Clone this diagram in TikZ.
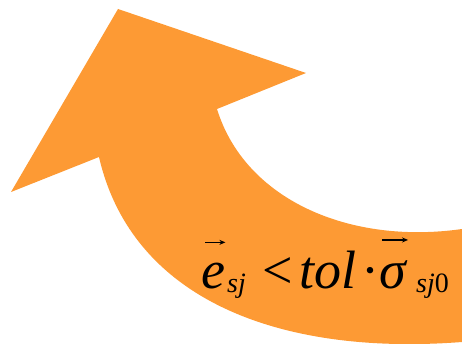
\documentclass[tikz,border=0pt]{standalone}
\usepackage{fontspec}
\setmainfont{Liberation Serif}
\usetikzlibrary{arrows.meta}
\definecolor{bandorange}{RGB}{253,154,52}

\begin{document}
\begin{tikzpicture}[
  x=1pt, y=-1pt,
  sym/.style={inner sep=0pt, anchor=base west, font=\fontsize{54}{58}\selectfont\itshape},
  sub/.style={inner sep=0pt, anchor=base west, font=\fontsize{28}{30}\selectfont\itshape},
  vecarr/.style={-{Stealth[length=6pt,width=5pt]}, line width=1.3pt}
]
\useasboundingbox (0,0) rectangle (462,344);

%% Curved arrow
\fill[bandorange] (118,9) -- (306,73) -- (217,109)
  .. controls (245,200) and (350,245) .. (462,229)
  -- (462,342)
  .. controls (280,356) and (132,300) .. (99,157)
  -- (11,192) -- cycle;

%% Condition
\node[sym] (evar)   at (201,288) {e};
\node[sub] (esub)   at (227,292) {sj};
\node[sym, font=\fontsize{54}{58}\selectfont] (lt) at (262,288) {<};
\node[sym] (tol)    at (299,288) {tol};
\node[sym, font=\fontsize{54}{58}\selectfont] (dot) at (361,288) {·};
\node[sym] (sig)    at (379,288) {σ};
\node[sub] (sigsub) at (416,292) {sj\upshape 0};

%% Vector arrows
\draw[vecarr] ([xshift=4pt,yshift=20pt]evar.north west) -- ([yshift=20pt]evar.north east);
\draw[vecarr] ([xshift=3pt,yshift=20pt]sig.north west) -- ([xshift=2pt,yshift=20pt]sig.north east);

\end{tikzpicture}
\end{document}
